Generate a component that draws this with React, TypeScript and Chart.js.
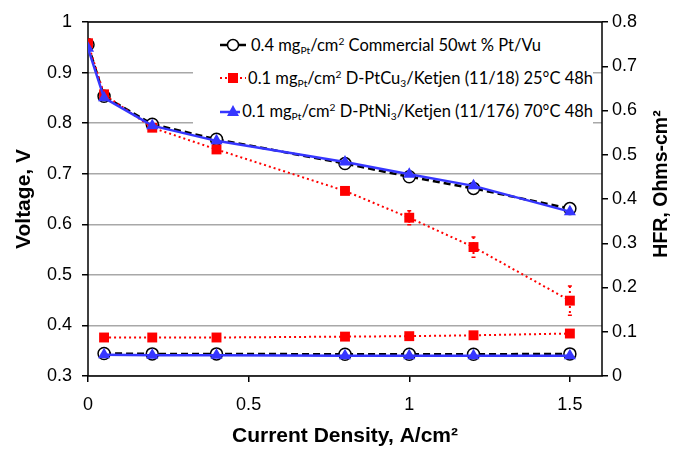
import React, { useEffect, useRef } from 'react';
import { Chart, registerables } from 'chart.js';

Chart.register(...registerables);

// ---- data ----
const currentDensity = [0, 0.05, 0.2, 0.4, 0.8, 1.0, 1.2, 1.5];
const voltageCommercial = [0.955, 0.853, 0.798, 0.768, 0.72, 0.694, 0.671, 0.631];
const voltagePtCu3 = [0.958, 0.857, 0.791, 0.748, 0.666, 0.613, 0.555, 0.449];
const voltagePtNi3 = [0.948, 0.850, 0.795, 0.765, 0.723, 0.699, 0.676, 0.625];
const errPtCu3 = [0, 0, 0, 0, 0.006, 0.014, 0.02, 0.029];

const hfrCurrent = [0.05, 0.2, 0.4, 0.8, 1.0, 1.2, 1.5];
const hfrCommercial = [0.051, 0.050, 0.050, 0.049, 0.049, 0.049, 0.050];
const hfrPtCu3 = [0.087, 0.087, 0.087, 0.089, 0.090, 0.092, 0.096];
const hfrPtNi3 = [0.048, 0.047, 0.047, 0.046, 0.046, 0.046, 0.046];

const xTicks = [0, 0.5, 1, 1.5];
const xTickLabels = ['0', '0.5', '1', '1.5'];
const yTicks = [0.3, 0.4, 0.5, 0.6, 0.7, 0.8, 0.9, 1.0];
const yTickLabels = ['0.3', '0.4', '0.5', '0.6', '0.7', '0.8', '0.9', '1'];
const y1Ticks = [0, 0.1, 0.2, 0.3, 0.4, 0.5, 0.6, 0.7, 0.8];
const y1TickLabels = ['0', '0.1', '0.2', '0.3', '0.4', '0.5', '0.6', '0.7', '0.8'];

const rightTitle = 'HFR, Ohms-cm²';

const BLACK = '#000000';
const RED = '#ff0000';
const BLUE = '#3636ff';

const pts = (xs: number[], ys: number[]) => xs.map((x, i) => ({ x, y: ys[i] }));

const errorBarPlugin = {
  id: 'errorBars',
  afterDatasetsDraw(chart: any) {
    const { ctx } = chart;
    const xs = chart.scales.x;
    const ys = chart.scales.y;
    ctx.save();
    ctx.strokeStyle = RED;
    currentDensity.forEach((cd, i) => {
      const e = errPtCu3[i];
      if (!e) return;
      const x = xs.getPixelForValue(cd);
      const yTop = ys.getPixelForValue(voltagePtCu3[i] + e);
      const yBot = ys.getPixelForValue(voltagePtCu3[i] - e);
      ctx.lineWidth = 2;
      ctx.setLineDash([2, 3]);
      ctx.beginPath();
      ctx.moveTo(x, yTop);
      ctx.lineTo(x, yBot);
      ctx.stroke();
      ctx.setLineDash([]);
      ctx.lineWidth = 1.5;
      ctx.beginPath();
      ctx.moveTo(x - 2, yTop);
      ctx.lineTo(x + 2, yTop);
      ctx.moveTo(x - 2, yBot);
      ctx.lineTo(x + 2, yBot);
      ctx.stroke();
    });
    ctx.restore();
  },
};

const framePlugin = {
  id: 'frame',
  beforeDatasetsDraw(chart: any) {
    const { ctx, chartArea } = chart;
    ctx.save();
    ctx.strokeStyle = '#000';
    ctx.lineWidth = 1.5;
    ctx.strokeRect(chartArea.left, chartArea.top, chartArea.right - chartArea.left, chartArea.bottom - chartArea.top);
    ctx.restore();
  },
};

const rightTitlePlugin = {
  id: 'rightTitle',
  afterDraw(chart: any) {
    const { ctx } = chart;
    const s = chart.scales.y1;
    ctx.save();
    ctx.translate(s.right - 18, (s.top + s.bottom) / 2 - 15);
    ctx.rotate(-Math.PI / 2);
    ctx.font = 'bold 19.5px "Liberation Sans", Arial, sans-serif';
    ctx.fillStyle = '#000';
    ctx.textAlign = 'center';
    ctx.textBaseline = 'middle';
    ctx.fillText(rightTitle, 0, 0);
    ctx.restore();
  },
};

const tickFont = { family: '"Liberation Sans", Arial, sans-serif', size: 18 };
const titleFont = { family: '"Liberation Sans", Arial, sans-serif', size: 21, weight: 'bold' as const };

export default function App() {
  const ref = useRef<HTMLCanvasElement | null>(null);

  useEffect(() => {
    document.body.style.margin = '0';
    if (!ref.current) return;
    const chart = new Chart(ref.current, {
      type: 'line',
      data: {
        datasets: [
          {
            label: 'Commercial V',
            data: pts(currentDensity, voltageCommercial),
            yAxisID: 'y',
            borderColor: BLACK,
            borderWidth: 2.5,
            borderDash: [7, 4],
            pointStyle: 'circle',
            pointRadius: 6,
            pointBackgroundColor: '#fff',
            pointBorderColor: BLACK,
            pointBorderWidth: 1.5,
            order: 3,
          },
          {
            label: 'PtCu3 V',
            data: pts(currentDensity, voltagePtCu3),
            yAxisID: 'y',
            borderColor: RED,
            borderWidth: 2,
            borderDash: [2, 3],
            pointStyle: 'rect',
            pointRadius: 7,
            pointBackgroundColor: RED,
            pointBorderColor: RED,
            pointBorderWidth: 0,
            order: 2,
          },
          {
            label: 'PtNi3 V',
            data: pts(currentDensity, voltagePtNi3),
            yAxisID: 'y',
            borderColor: BLUE,
            borderWidth: 2.5,
            pointStyle: 'triangle',
            pointRadius: 7,
            pointBackgroundColor: BLUE,
            pointBorderColor: BLUE,
            pointBorderWidth: 0,
            order: 1,
          },
          {
            label: 'Commercial HFR',
            data: pts(hfrCurrent, hfrCommercial),
            yAxisID: 'y1',
            borderColor: BLACK,
            borderWidth: 2.5,
            borderDash: [7, 4],
            pointStyle: 'circle',
            pointRadius: 6,
            pointBackgroundColor: '#fff',
            pointBorderColor: BLACK,
            pointBorderWidth: 1.5,
            order: 6,
          },
          {
            label: 'PtCu3 HFR',
            data: pts(hfrCurrent, hfrPtCu3),
            yAxisID: 'y1',
            borderColor: RED,
            borderWidth: 2,
            borderDash: [2, 3],
            pointStyle: 'rect',
            pointRadius: 7,
            pointBackgroundColor: RED,
            pointBorderColor: RED,
            pointBorderWidth: 0,
            order: 5,
          },
          {
            label: 'PtNi3 HFR',
            data: pts(hfrCurrent, hfrPtNi3),
            yAxisID: 'y1',
            borderColor: BLUE,
            borderWidth: 2.5,
            pointStyle: 'triangle',
            pointRadius: 7,
            pointBackgroundColor: BLUE,
            pointBorderColor: BLUE,
            pointBorderWidth: 0,
            order: 4,
          },
        ],
      },
      options: {
        animation: false,
        responsive: false,
        devicePixelRatio: 1,
        layout: { padding: { top: 22, left: 0, right: 0, bottom: 0 } },
        plugins: { legend: { display: false }, tooltip: { enabled: false } },
        elements: { line: { tension: 0 } },
        scales: {
          x: {
            type: 'linear',
            min: 0,
            max: 1.6,
            position: 'bottom',
            afterBuildTicks: (s: any) => { s.ticks = xTicks.map((v) => ({ value: v })); },
            afterFit: (s: any) => { s.height = 74; },
            grid: { drawOnChartArea: false, drawTicks: true, tickLength: 6, tickColor: '#000', lineWidth: 1.5 },
            border: { display: false },
            ticks: { font: tickFont, color: '#000', padding: 12, maxRotation: 0, callback: (_v: any, i: number) => xTickLabels[i] },
            title: { display: true, text: 'Current Density, A/cm²', font: titleFont, color: '#000', padding: { top: 0, bottom: 1 } },
          },
          y: {
            type: 'linear',
            min: 0.3,
            max: 1.0,
            position: 'left',
            afterBuildTicks: (s: any) => { s.ticks = yTicks.map((v) => ({ value: v })); },
            afterFit: (s: any) => { s.width = 88; },
            grid: { color: '#a8a8a8', lineWidth: 1.5, drawTicks: true, tickLength: 6, tickColor: '#000' },
            border: { display: false },
            ticks: { font: tickFont, color: '#000', padding: 10, callback: (_v: any, i: number) => yTickLabels[i] },
            title: { display: true, text: 'Voltage, V', font: titleFont, color: '#000', padding: { top: 12, bottom: 0 } },
          },
          y1: {
            type: 'linear',
            min: 0,
            max: 0.8,
            position: 'right',
            afterBuildTicks: (s: any) => { s.ticks = y1Ticks.map((v) => ({ value: v })); },
            afterFit: (s: any) => { s.width = 78; },
            grid: { drawOnChartArea: false, drawTicks: true, tickLength: 6, tickColor: '#000', lineWidth: 1.5 },
            border: { display: false },
            ticks: { font: tickFont, color: '#000', padding: 4, callback: (_v: any, i: number) => y1TickLabels[i] },
            title: { display: false },
          },
        },
      },
      plugins: [framePlugin, errorBarPlugin, rightTitlePlugin],
    });
    return () => chart.destroy();
  }, []);

  const sub = { fontSize: '0.62em', verticalAlign: '-0.3em', lineHeight: 0 } as const;
  const sup = { fontSize: '0.62em', verticalAlign: '0.55em', lineHeight: 0 } as const;
  const row = { display: 'flex', alignItems: 'center', height: 33, whiteSpace: 'nowrap' } as const;

  return (
    <div style={{ position: 'relative', width: 680, height: 450 }}>
      <canvas ref={ref} width={680} height={450} style={{ display: 'block' }} />
      <div
        style={{
          position: 'absolute', left: 193, top: 28, width: 400, height: 97, background: '#fff',
          fontFamily: 'Lato, "Liberation Sans", sans-serif', fontSize: 16.5, color: '#000',
        }}
      >
        <div style={row}>
          <svg width={30} height={18} style={{ marginLeft: 26 }}>
            <line x1={1} y1={9} x2={27} y2={9} stroke={BLACK} strokeWidth={2.5} />
            <circle cx={14} cy={9} r={5.5} fill="#fff" stroke={BLACK} strokeWidth={1.5} />
          </svg>
          <span style={{ marginLeft: 2 }}>0.4 mg<span style={sub}>Pt</span>/cm<span style={sup}>2</span> Commercial 50wt % Pt/Vu</span>
        </div>
        <div style={row}>
          <svg width={30} height={18} style={{ marginLeft: 26 }}>
            <line x1={1} y1={9} x2={27} y2={9} stroke={RED} strokeWidth={2} strokeDasharray="2 3" />
            <rect x={9} y={4} width={10} height={10} fill={RED} />
          </svg>
          <span style={{ marginLeft: 2 }}>0.1 mg<span style={sub}>Pt</span>/cm<span style={sup}>2</span> D-PtCu<span style={sub}>3</span>/Ketjen (11/18) 25°C 48h</span>
        </div>
        <div style={row}>
          <svg width={30} height={18} style={{ marginLeft: 26 }}>
            <line x1={1} y1={10} x2={27} y2={10} stroke={BLUE} strokeWidth={2.5} />
            <polygon points="14,3 20,14 8,14" fill={BLUE} />
          </svg>
          <span style={{ marginLeft: 2 }}>0.1 mg<span style={sub}>Pt</span>/cm<span style={sup}>2</span> D-PtNi<span style={sub}>3</span>/Ketjen (11/176) 70°C 48h</span>
        </div>
      </div>
    </div>
  );
}
